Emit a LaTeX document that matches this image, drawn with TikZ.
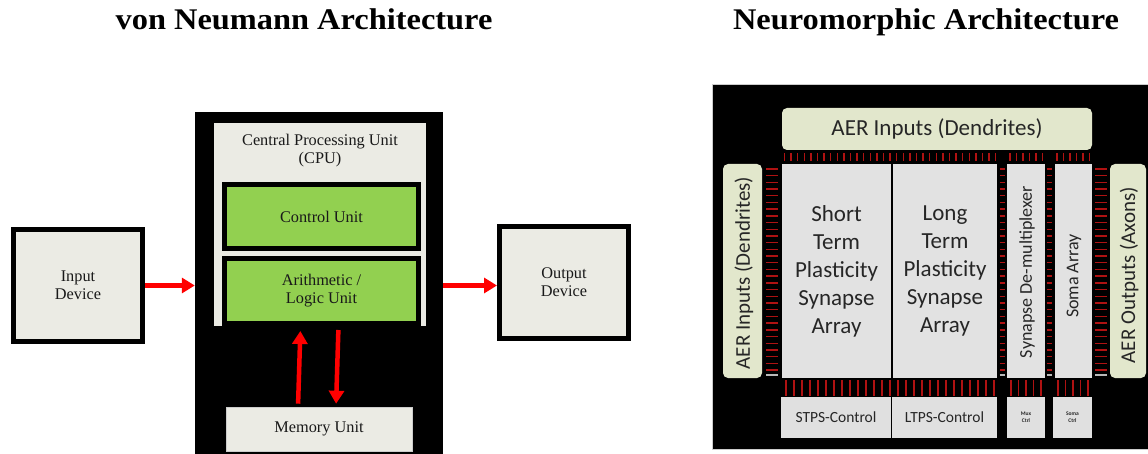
\documentclass[tikz,border=0pt]{standalone}
\usepackage{fontspec}
\setmainfont{Liberation Serif}
\newfontfamily\calib{Carlito}
\usetikzlibrary{arrows.meta}
\definecolor{lgray}{RGB}{235,235,228}
\definecolor{cgreen}{RGB}{146,208,80}
\definecolor{ared}{RGB}{255,0,0}
\definecolor{aerfill}{RGB}{226,231,204}
\definecolor{arrfill}{RGB}{226,226,226}
\definecolor{ctlfill}{RGB}{224,224,224}
\definecolor{tickred}{RGB}{175,18,18}
\begin{document}
\begin{tikzpicture}[x=1pt,y=-1pt,
  title/.style={font=\fontsize{30}{34}\selectfont\bfseries, inner sep=0pt},
  serif/.style={font=\fontsize{16.3}{18}\selectfont, align=center, text=black!90},
  bbox/.style={rectangle, draw=black, line width=5pt, fill=lgray, inner sep=0pt, serif},
  gbox/.style={rectangle, draw=black, line width=5pt, fill=cgreen, inner sep=0pt, serif},
  plain/.style={rectangle, inner sep=0pt},
  aer/.style={rectangle, rounded corners=5pt, fill=aerfill, inner sep=0pt, font=\calib, text=black!85},
  arr/.style={rectangle, fill=arrfill, inner sep=0pt, font=\calib, text=black!85, align=center},
  ctl/.style={rectangle, fill=ctlfill, inner sep=0pt, font=\calib, text=black!85, align=center},
  redarrow/.style={draw=ared, line width=4.5pt, -{Triangle[length=13pt,width=15pt]}},
  tk/.style={draw=tickred, line width=1.4pt},
  tkg/.style={draw=gray!55, line width=1.2pt}]
\useasboundingbox (0,0) rectangle (1148,454);
\fill[white] (0,0) rectangle (1148,454);

% titles
\node[title, anchor=base] (t1) at (304,30) {\scalebox{1.08}[1]{von Neumann Architecture}};
\node[title, anchor=base] (t2) at (926,30) {\scalebox{1.08}[1]{Neuromorphic Architecture}};

% ---------- von Neumann ----------
\node[plain, fill=black, minimum width=248pt, minimum height=345pt] (cpu) at (319,284.5) {};
\node[plain, fill=lgray, minimum width=212pt, minimum height=203pt] (cpuin) at (320,224.5) {};
\node[serif] (cputxt) at (320,151) {Central Processing Unit\\(CPU)};
\node[gbox, minimum width=194pt, minimum height=64pt] (cu) at (321.5,216.5) {Control Unit};
\node[gbox, minimum width=194pt, minimum height=65pt] (alu) at (321.5,291) {Arithmetic /\\Logic Unit};
\node[plain, fill=lgray, draw=gray!40, line width=0.6pt, serif, minimum width=186pt, minimum height=44pt] (mem) at (319,429) {Memory Unit};
\node[bbox, minimum width=129pt, minimum height=112pt] (inp) at (78,285.5) {Input\\Device};
\node[bbox, minimum width=129pt, minimum height=112pt] (out) at (564,282.5) {Output\\Device};

\draw[redarrow] (inp.east) -- (cpu.west |- inp.east);
\draw[redarrow] (cpu.east |- inp.east) -- (out.west |- inp.east);
\draw[redarrow, shorten <=3pt, shorten >=5pt] ([xshift=-21pt]mem.north) -- ([xshift=-21pt]alu.south);
\draw[redarrow, shorten <=4pt, shorten >=3pt] ([xshift=17pt]alu.south) -- ([xshift=17pt]mem.north);

% ---------- Neuromorphic ----------
\node[plain, fill=black, draw=gray!40, line width=0.6pt, minimum width=436pt, minimum height=365pt] (nbox) at (930,266.5) {};
\node[aer, minimum width=310pt, minimum height=42pt, font=\calib\fontsize{23}{28}\selectfont] (aertop) at (937,129) {AER Inputs (Dendrites)};
\node[aer, minimum width=39pt, minimum height=214pt] (aerl) at (742.5,271) {};
\node[aer, rotate=90, font=\calib\fontsize{21}{25}\selectfont] (aerltxt) at (744,273) {AER Inputs (Dendrites)};
\node[aer, minimum width=36pt, minimum height=214pt] (aerr) at (1128,271) {};
\node[aer, rotate=90, font=\calib\fontsize{21}{25}\selectfont] (aerrtxt) at (1129,275) {AER Outputs (Axons)};

\node[arr, minimum width=109pt, minimum height=214pt, font=\calib\fontsize{23}{28}\selectfont] (sts) at (836.5,271) {Short\\Term\\Plasticity\\Synapse\\Array};
\node[arr, minimum width=104pt, minimum height=214pt, font=\calib\fontsize{23}{28}\selectfont] (lts) at (945,271) {Long\\Term\\Plasticity\\Synapse\\Array};
\node[arr, minimum width=38pt, minimum height=214pt] (dmx) at (1026,271) {};
\node[arr, rotate=90, fill=none, font=\calib\fontsize{18}{22}\selectfont] (dmxtxt) at (1027,272) {Synapse De-multiplexer};
\node[arr, minimum width=37pt, minimum height=214pt] (soma) at (1073.5,271) {};
\node[arr, rotate=90, fill=none, font=\calib\fontsize{18}{22}\selectfont] (somatxt) at (1074,276) {Soma Array};

\node[ctl, minimum width=110pt, minimum height=41pt, font=\calib\fontsize{15.5}{18}\selectfont] (stpsc) at (836,417.5) {STPS-Control};
\node[ctl, minimum width=105pt, minimum height=41pt, font=\calib\fontsize{15.5}{18}\selectfont] (ltpsc) at (944.5,417.5) {LTPS-Control};
\node[ctl, minimum width=38pt, minimum height=41pt, font=\calib\fontsize{5.5}{7}\selectfont\bfseries] (muxc) at (1026,417.5) {Mux\\Ctrl};
\node[ctl, minimum width=39pt, minimum height=41pt, font=\calib\fontsize{5.5}{7}\selectfont\bfseries] (somac) at (1072.5,417.5) {Soma\\Ctrl};

% top tick strip
\foreach \x in {784.5,791.1,...,996} \draw[tk] (\x,153) -- (\x,161);
\foreach \x in {1010,1016.5,...,1043} \draw[tk] (\x,153) -- (\x,161);
\foreach \x in {1057,1063.5,...,1090} \draw[tk] (\x,153) -- (\x,161);
% vertical strips
\foreach \y in {169,175.7,...,371} {
  \draw[tk] (766,\y) -- (778,\y);
  \draw[tk] (999.5,\y) -- (1004.5,\y);
  \draw[tk] (1046.5,\y) -- (1051.5,\y);
  \draw[tk] (1095,\y) -- (1107,\y);
}
\draw[tkg] (766,375) -- (778,375);
\draw[tkg] (999.5,375) -- (1004.5,375);
\draw[tkg] (1046.5,375) -- (1051.5,375);
\draw[tkg] (1095,375) -- (1107,375);
% bottom tick strips
\foreach \x in {786,794,...,995} \draw[tk] (\x,380) -- (\x,396);
\foreach \x in {1011,1018.5,...,1043} \draw[tk] (\x,380) -- (\x,396);
\foreach \x in {1058,1065.5,...,1090} \draw[tk] (\x,380) -- (\x,396);
\end{tikzpicture}
\end{document}
